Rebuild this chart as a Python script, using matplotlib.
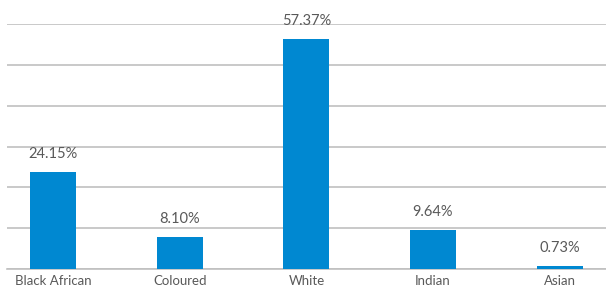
import matplotlib
matplotlib.use("Agg")
from matplotlib import pyplot as plt
import numpy as np

categories = ["Black African", "Coloured", "White", "Indian", "Asian"]
values = [24.15, 8.10, 57.37, 9.64, 0.73]
labels = ["24.15%", "8.10%", "57.37%", "9.64%", "0.73%"]

plt.rcParams['font.family'] = ['Lato', 'DejaVu Sans']

fig = plt.figure(figsize=(6.06, 2.89), dpi=100)
# axes from x=7px to right edge, baseline at y=269, top gridline at y=24
ax = fig.add_axes([7 / 606, (289 - 269) / 289, 599 / 606, 245 / 289])

x = list(range(len(categories)))
ax.bar(x, values, width=0.363, color="#0088d1", zorder=3)

for xi, v, lab in zip(x, values, labels):
    ax.annotate(lab, (xi, v), xytext=(0, 13), textcoords="offset points",
                ha="center", va="center", fontsize=10.5, color="#595959")

ymax = 61.2
ax.set_xlim(-0.366, 4.367)
ax.set_ylim(0, ymax)
ax.set_yticks(np.linspace(0, ymax, 7))
ax.yaxis.grid(True, color="#c0c0c0", linewidth=1.2, zorder=0)
ax.set_yticklabels([])
ax.tick_params(axis="y", length=0)
ax.tick_params(axis="x", length=0, pad=4, labelsize=9.5, labelcolor="#595959")
ax.set_xticks(x)
ax.set_xticklabels(categories)
for s in ["top", "right", "left"]:
    ax.spines[s].set_visible(False)
ax.spines["bottom"].set_color("#c0c0c0")
ax.spines["bottom"].set_linewidth(1.2)

fig.savefig("out.png", dpi=100)
